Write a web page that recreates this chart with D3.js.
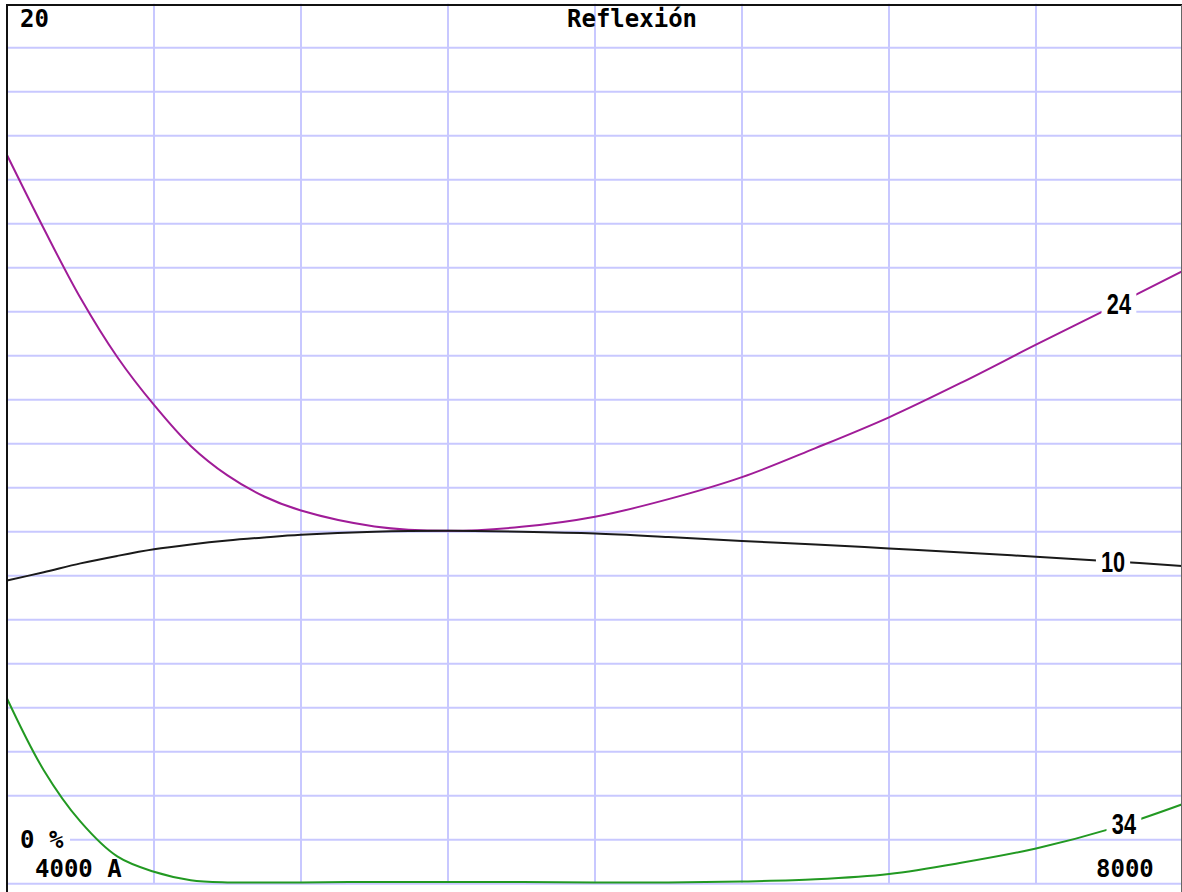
<!DOCTYPE html>
<html>
<head>
<meta charset="utf-8">
<script src="https://cdn.jsdelivr.net/npm/d3@7"></script>
<style>
  html, body { margin: 0; padding: 0; background: #fff; }
  svg { display: block; }
  .mono { font-family: "DejaVu Sans Mono", "Liberation Mono", monospace; font-weight: bold; font-size: 24px; fill: #000; }
  .clabel { font-family: "Liberation Sans", "DejaVu Sans", sans-serif; font-weight: bold; font-size: 29px; fill: #000; }
</style>
</head>
<body>
<script>
// Wavelengths (Å)
const wavelengths = [4000, 4125, 4250, 4375, 4500, 4625, 4750, 4875, 5000, 5250, 5500, 5750, 6000, 6250, 6500, 6750, 7000, 7250, 7500, 7750, 8000];
// Reflection (%) per coating
const series24 = [16.56, 14.89, 13.31, 11.97, 10.88, 9.95, 9.28, 8.80, 8.48, 8.12, 8.02, 8.11, 8.34, 8.74, 9.24, 9.90, 10.60, 11.40, 12.25, 13.08, 13.93];
const series10 = [6.89, 7.08, 7.28, 7.45, 7.60, 7.71, 7.80, 7.87, 7.93, 8.00, 8.02, 8.00, 7.96, 7.88, 7.79, 7.71, 7.62, 7.53, 7.43, 7.33, 7.22];
const series34 = [4.21, 2.58, 1.41, 0.62, 0.27, 0.08, 0.03, 0.03, 0.03, 0.04, 0.04, 0.04, 0.03, 0.03, 0.05, 0.10, 0.22, 0.48, 0.80, 1.24, 1.81];
const seriesNames = ["24", "10", "34"];
const seriesColors = ["#a01c98", "#1a1a1a", "#229922"];
const labelWavelengths = [7782, 7762, 7799];
// Grid ticks
const xGridTicks = [4500, 5000, 5500, 6000, 6500, 7000, 7500];
const yGridTicks = d3.range(0, 20, 1);
// Text
const titleText = "Reflexión";
const yMaxLabel = "20";
const yMinLabel = "0 %";
const xMinLabel = "4000 A";
const xMaxLabel = "8000";

const W = 1182, H = 892;
const svg = d3.select("body").append("svg").attr("width", W).attr("height", H);
svg.append("rect").attr("width", W).attr("height", H).attr("fill", "#fff");

const x = d3.scaleLinear().domain([4000, 8000]).range([7, 1183]);
const y = d3.scaleLinear().domain([0, 20]).range([883.7, 3.7]);

// grid
const grid = svg.append("g").attr("stroke", "#c8c8ff").attr("stroke-width", 2);
grid.selectAll("line.v").data(xGridTicks).join("line")
  .attr("x1", d => x(d)).attr("x2", d => x(d))
  .attr("y1", y(20)).attr("y2", y(0));
grid.selectAll("line.h").data(yGridTicks).join("line")
  .attr("x1", x(4000)).attr("x2", 1181)
  .attr("y1", d => y(d)).attr("y2", d => y(d));

// white patch behind "0 %"
svg.append("rect").attr("x", 8).attr("y", y(1) - 18).attr("width", 62).attr("height", 22).attr("fill", "#fff");

// curves
const allSeries = [series24, series10, series34];
const line = d3.line().x(d => x(d[0])).y(d => y(d[1])).curve(d3.curveCatmullRom.alpha(0.5));
allSeries.forEach((s, i) => {
  const pts = wavelengths.map((w, j) => [w, s[j]]);
  svg.append("path").datum(pts).attr("d", line)
    .attr("fill", "none").attr("stroke", seriesColors[i]).attr("stroke-width", 2);
});

// curve labels
function valueAt(s, w) {
  const i = d3.bisectRight(wavelengths, w) - 1;
  const i0 = Math.max(0, Math.min(i, wavelengths.length - 2));
  const t = (w - wavelengths[i0]) / (wavelengths[i0 + 1] - wavelengths[i0]);
  return s[i0] + t * (s[i0 + 1] - s[i0]);
}
allSeries.forEach((s, i) => {
  const cx = x(labelWavelengths[i]);
  const cy = y(valueAt(s, labelWavelengths[i]));
  const g = svg.append("g");
  const rect = g.append("rect").attr("fill", "#fff");
  const t = g.append("text").attr("class", "clabel")
    .attr("transform", `translate(${cx},${cy}) scale(0.75,1)`)
    .attr("text-anchor", "middle").attr("dominant-baseline", "central")
    .text(seriesNames[i]);
  const bb = t.node().getBBox();
  const w = bb.width * 0.75;
  rect.attr("x", cx - w / 2 - 5).attr("y", cy - 12).attr("width", w + 10).attr("height", 24);
});

// frame
svg.append("line").attr("x1", 6).attr("x2", 1182).attr("y1", 5).attr("y2", 5).attr("stroke", "#111").attr("stroke-width", 2);
svg.append("line").attr("x1", 7).attr("x2", 7).attr("y1", 4).attr("y2", H).attr("stroke", "#111").attr("stroke-width", 2);
svg.append("line").attr("x1", 1181.5).attr("x2", 1181.5).attr("y1", 5).attr("y2", H).attr("stroke", "#666").attr("stroke-width", 1);

// texts
svg.append("text").attr("class", "mono").attr("x", 20).attr("y", 26.5).text(yMaxLabel);
svg.append("text").attr("class", "mono").attr("x", 567).attr("y", 26.5).text(titleText);
svg.append("text").attr("class", "mono").attr("x", 20).attr("y", 848).style("white-space", "pre").text(yMinLabel);
svg.append("text").attr("class", "mono").attr("x", 35).attr("y", 877).style("white-space", "pre").text(xMinLabel);
svg.append("text").attr("class", "mono").attr("x", 1096).attr("y", 877).text(xMaxLabel);
</script>
</body>
</html>
